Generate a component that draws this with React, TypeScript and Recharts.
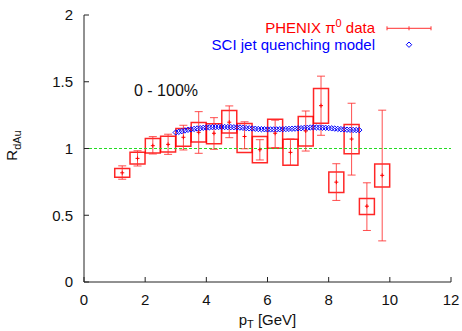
import React from 'react';
import { ScatterChart, Scatter, XAxis, YAxis, ErrorBar, ReferenceArea, ReferenceLine } from 'recharts';

// PHENIX pi0 data (pT bin centres, R_dAu, stat and sys bounds)
const ptX = [1.25, 1.75, 2.25, 2.75, 3.25, 3.75, 4.25, 4.75, 5.25, 5.75, 6.25, 6.75, 7.25, 7.75, 8.25, 8.75, 9.25, 9.75];
const ptY = [0.818, 0.926, 1.021, 1.031, 1.084, 1.121, 1.114, 1.197, 1.09, 0.991, 1.114, 0.971, 1.131, 1.321, 0.748, 1.071, 0.568, 0.799];
const statLow = [0.77, 0.869, 0.959, 0.956, 0.989, 0.964, 0.994, 1.081, 0.998, 0.914, 1.006, 0.874, 0.981, 1.099, 0.611, 0.801, 0.386, 0.308];
const statHigh = [0.87, 0.983, 1.089, 1.107, 1.174, 1.276, 1.231, 1.319, 1.2, 1.066, 1.212, 1.071, 1.281, 1.542, 0.886, 1.339, 0.743, 1.287];
const sysLow = [0.784, 0.884, 0.966, 0.974, 1.016, 1.049, 1.036, 1.116, 0.97, 0.893, 1.001, 0.874, 1.019, 1.189, 0.671, 0.961, 0.506, 0.711];
const sysHigh = [0.851, 0.971, 1.074, 1.092, 1.149, 1.194, 1.186, 1.284, 1.187, 1.089, 1.219, 1.069, 1.239, 1.449, 0.824, 1.179, 0.626, 0.884];

// SCI jet quenching model
const modelX = [3.0, 3.1, 3.2, 3.3, 3.4, 3.5, 3.6, 3.7, 3.8, 3.9, 4.0, 4.1, 4.2, 4.3, 4.4, 4.5, 4.6, 4.7, 4.8, 4.9, 5.0, 5.1, 5.2, 5.3, 5.4, 5.5, 5.6, 5.7, 5.8, 5.9, 6.0, 6.1, 6.2, 6.3, 6.4, 6.5, 6.6, 6.7, 6.8, 6.9, 7.0, 7.1, 7.2, 7.3, 7.4, 7.5, 7.6, 7.7, 7.8, 7.9, 8.0, 8.1, 8.2, 8.3, 8.4, 8.5, 8.6, 8.7, 8.8, 8.9, 9.0];
const modelY = [1.12, 1.125, 1.13, 1.135, 1.14, 1.143, 1.147, 1.15, 1.152, 1.155, 1.157, 1.158, 1.16, 1.16, 1.161, 1.161, 1.161, 1.16, 1.16, 1.159, 1.158, 1.157, 1.155, 1.153, 1.151, 1.15, 1.148, 1.146, 1.145, 1.144, 1.143, 1.143, 1.143, 1.143, 1.144, 1.145, 1.146, 1.147, 1.148, 1.149, 1.151, 1.152, 1.154, 1.155, 1.157, 1.158, 1.158, 1.157, 1.156, 1.155, 1.153, 1.151, 1.149, 1.147, 1.145, 1.143, 1.141, 1.14, 1.139, 1.138, 1.138];

const xTicks = [0, 2, 4, 6, 8, 10, 12];
const yTicks = [0, 0.5, 1, 1.5, 2];

const BOX_HALF = 0.245;
const FONT = '"Liberation Sans", Arial, sans-serif';
const AXIS = '#222';

const dataPts = ptX.map((x, i) => ({ x, y: ptY[i], err: [ptY[i] - statLow[i], statHigh[i] - ptY[i]] }));
const modelPts = modelX.map((x, i) => ({ x, y: modelY[i] }));

const BottomTick = (p: any) => (
  <g>
    <line x1={p.x} y1={p.y} x2={p.x} y2={p.y - 5} stroke={AXIS} />
    <text x={p.x} y={p.y + 23} textAnchor="middle" fontFamily={FONT} fontSize={15} fill="#111">{p.payload.value}</text>
  </g>
);
const TopTick = (p: any) => <line x1={p.x} y1={p.y} x2={p.x} y2={p.y + 5} stroke={AXIS} />;
const LeftTick = (p: any) => (
  <g>
    <line x1={p.x} y1={p.y} x2={p.x + 5} y2={p.y} stroke={AXIS} />
    <text x={p.x - 11} y={p.y + 5.3} textAnchor="end" fontFamily={FONT} fontSize={15} fill="#111">{p.payload.value}</text>
  </g>
);
const RightTick = (p: any) => <line x1={p.x} y1={p.y} x2={p.x - 5} y2={p.y} stroke={AXIS} />;

const Cross = (p: any) => (
  <g stroke="#ff0000" strokeWidth={1}>
    <line x1={p.cx - 2} y1={p.cy} x2={p.cx + 2} y2={p.cy} />
    <line x1={p.cx} y1={p.cy - 2} x2={p.cx} y2={p.cy + 2} />
  </g>
);
const Diamond = (p: any) => (
  <polygon
    points={`${p.cx},${p.cy - 2.7} ${p.cx + 2.7},${p.cy} ${p.cx},${p.cy + 2.7} ${p.cx - 2.7},${p.cy}`}
    fill="none"
    stroke="#0000ff"
    strokeWidth={1}
  />
);

const XLabel = (props: any) => {
  const vb = props.viewBox;
  return (
    <text x={vb.x + vb.width / 2} y={vb.y + 43} textAnchor="middle" fontFamily={FONT} fontSize={15} fill="#111">
      p<tspan dy={3} fontSize={11}>T</tspan><tspan dy={-3}> [GeV]</tspan>
    </text>
  );
};
const YLabel = (props: any) => {
  const vb = props.viewBox;
  const cx = vb.x + 17;
  const cy = vb.y + vb.height / 2 - 3;
  return (
    <text transform={`translate(${cx},${cy}) rotate(-90)`} x={0} y={0} textAnchor="middle" fontFamily={FONT} fontSize={15} fill="#111">
      R<tspan dy={4} fontSize={11}>dAu</tspan>
    </text>
  );
};

export default function App() {
  return (
    <div style={{ position: 'absolute', left: 0, top: 0, width: 462, height: 331, background: '#fff' }}>
      <ScatterChart width={462} height={331} margin={{ top: 15, right: 11, bottom: 19, left: 0 }}>
        <XAxis xAxisId={0} type="number" dataKey="x" domain={[0, 12]} ticks={xTicks} height={30} tickSize={0} tickMargin={0}
          tickLine={false} axisLine={{ stroke: AXIS, strokeWidth: 1 }} tick={BottomTick} allowDataOverflow label={XLabel} />
        <XAxis xAxisId="top" orientation="top" type="number" domain={[0, 12]} ticks={xTicks} height={0} tickSize={0} tickMargin={0}
          tickLine={false} axisLine={{ stroke: AXIS, strokeWidth: 1 }} tick={TopTick} allowDataOverflow />
        <YAxis yAxisId={0} type="number" dataKey="y" domain={[0, 2]} ticks={yTicks} width={84} tickSize={0} tickMargin={0}
          tickLine={false} axisLine={{ stroke: AXIS, strokeWidth: 1 }} tick={LeftTick} allowDataOverflow label={YLabel} />
        <YAxis yAxisId="right" orientation="right" type="number" domain={[0, 2]} ticks={yTicks} width={0} tickSize={0} tickMargin={0}
          tickLine={false} axisLine={{ stroke: AXIS, strokeWidth: 1 }} tick={RightTick} allowDataOverflow />
        <ReferenceLine y={1} stroke="#22dd22" strokeDasharray="3 2" strokeWidth={1} />
        {ptX.map((x, i) => (
          <ReferenceArea key={i} x1={x - BOX_HALF} x2={x + BOX_HALF} y1={sysLow[i]} y2={sysHigh[i]}
            fill="none" fillOpacity={0} stroke="#ff0000" strokeWidth={1.5} strokeOpacity={0.85} />
        ))}
        <Scatter data={modelPts} dataKey="y" shape={Diamond} isAnimationActive={false} />
        <Scatter data={dataPts} dataKey="y" shape={Cross} isAnimationActive={false}>
          <ErrorBar dataKey="err" direction="y" width={4} stroke="#ff3030" strokeWidth={1} strokeOpacity={0.85} />
        </Scatter>
      </ScatterChart>
      <svg width={462} height={331} style={{ position: 'absolute', left: 0, top: 0, pointerEvents: 'none' }}>
        <text x={134} y={96} fontFamily={FONT} fontSize={16} fill="#111">0 - 100%</text>
        <text x={375} y={33.3} textAnchor="end" fontFamily={FONT} fontSize={15} fill="#ff0000">
          PHENIX π<tspan dy={-6} fontSize={11}>0</tspan><tspan dy={6}> data</tspan>
        </text>
        <g stroke="#ff3030" strokeWidth={1}>
          <line x1={387} y1={28.3} x2={431} y2={28.3} />
          <line x1={387} y1={26.3} x2={387} y2={30.3} />
          <line x1={431} y1={26.3} x2={431} y2={30.3} />
          <line x1={409} y1={26.3} x2={409} y2={30.3} />
        </g>
        <text x={375} y={49.5} textAnchor="end" fontFamily={FONT} fontSize={15} fill="#0000ff">SCI jet quenching model</text>
        <polygon points="409,42 411.7,44.7 409,47.4 406.3,44.7" fill="none" stroke="#0000ff" strokeWidth={1} />
      </svg>
    </div>
  );
}
